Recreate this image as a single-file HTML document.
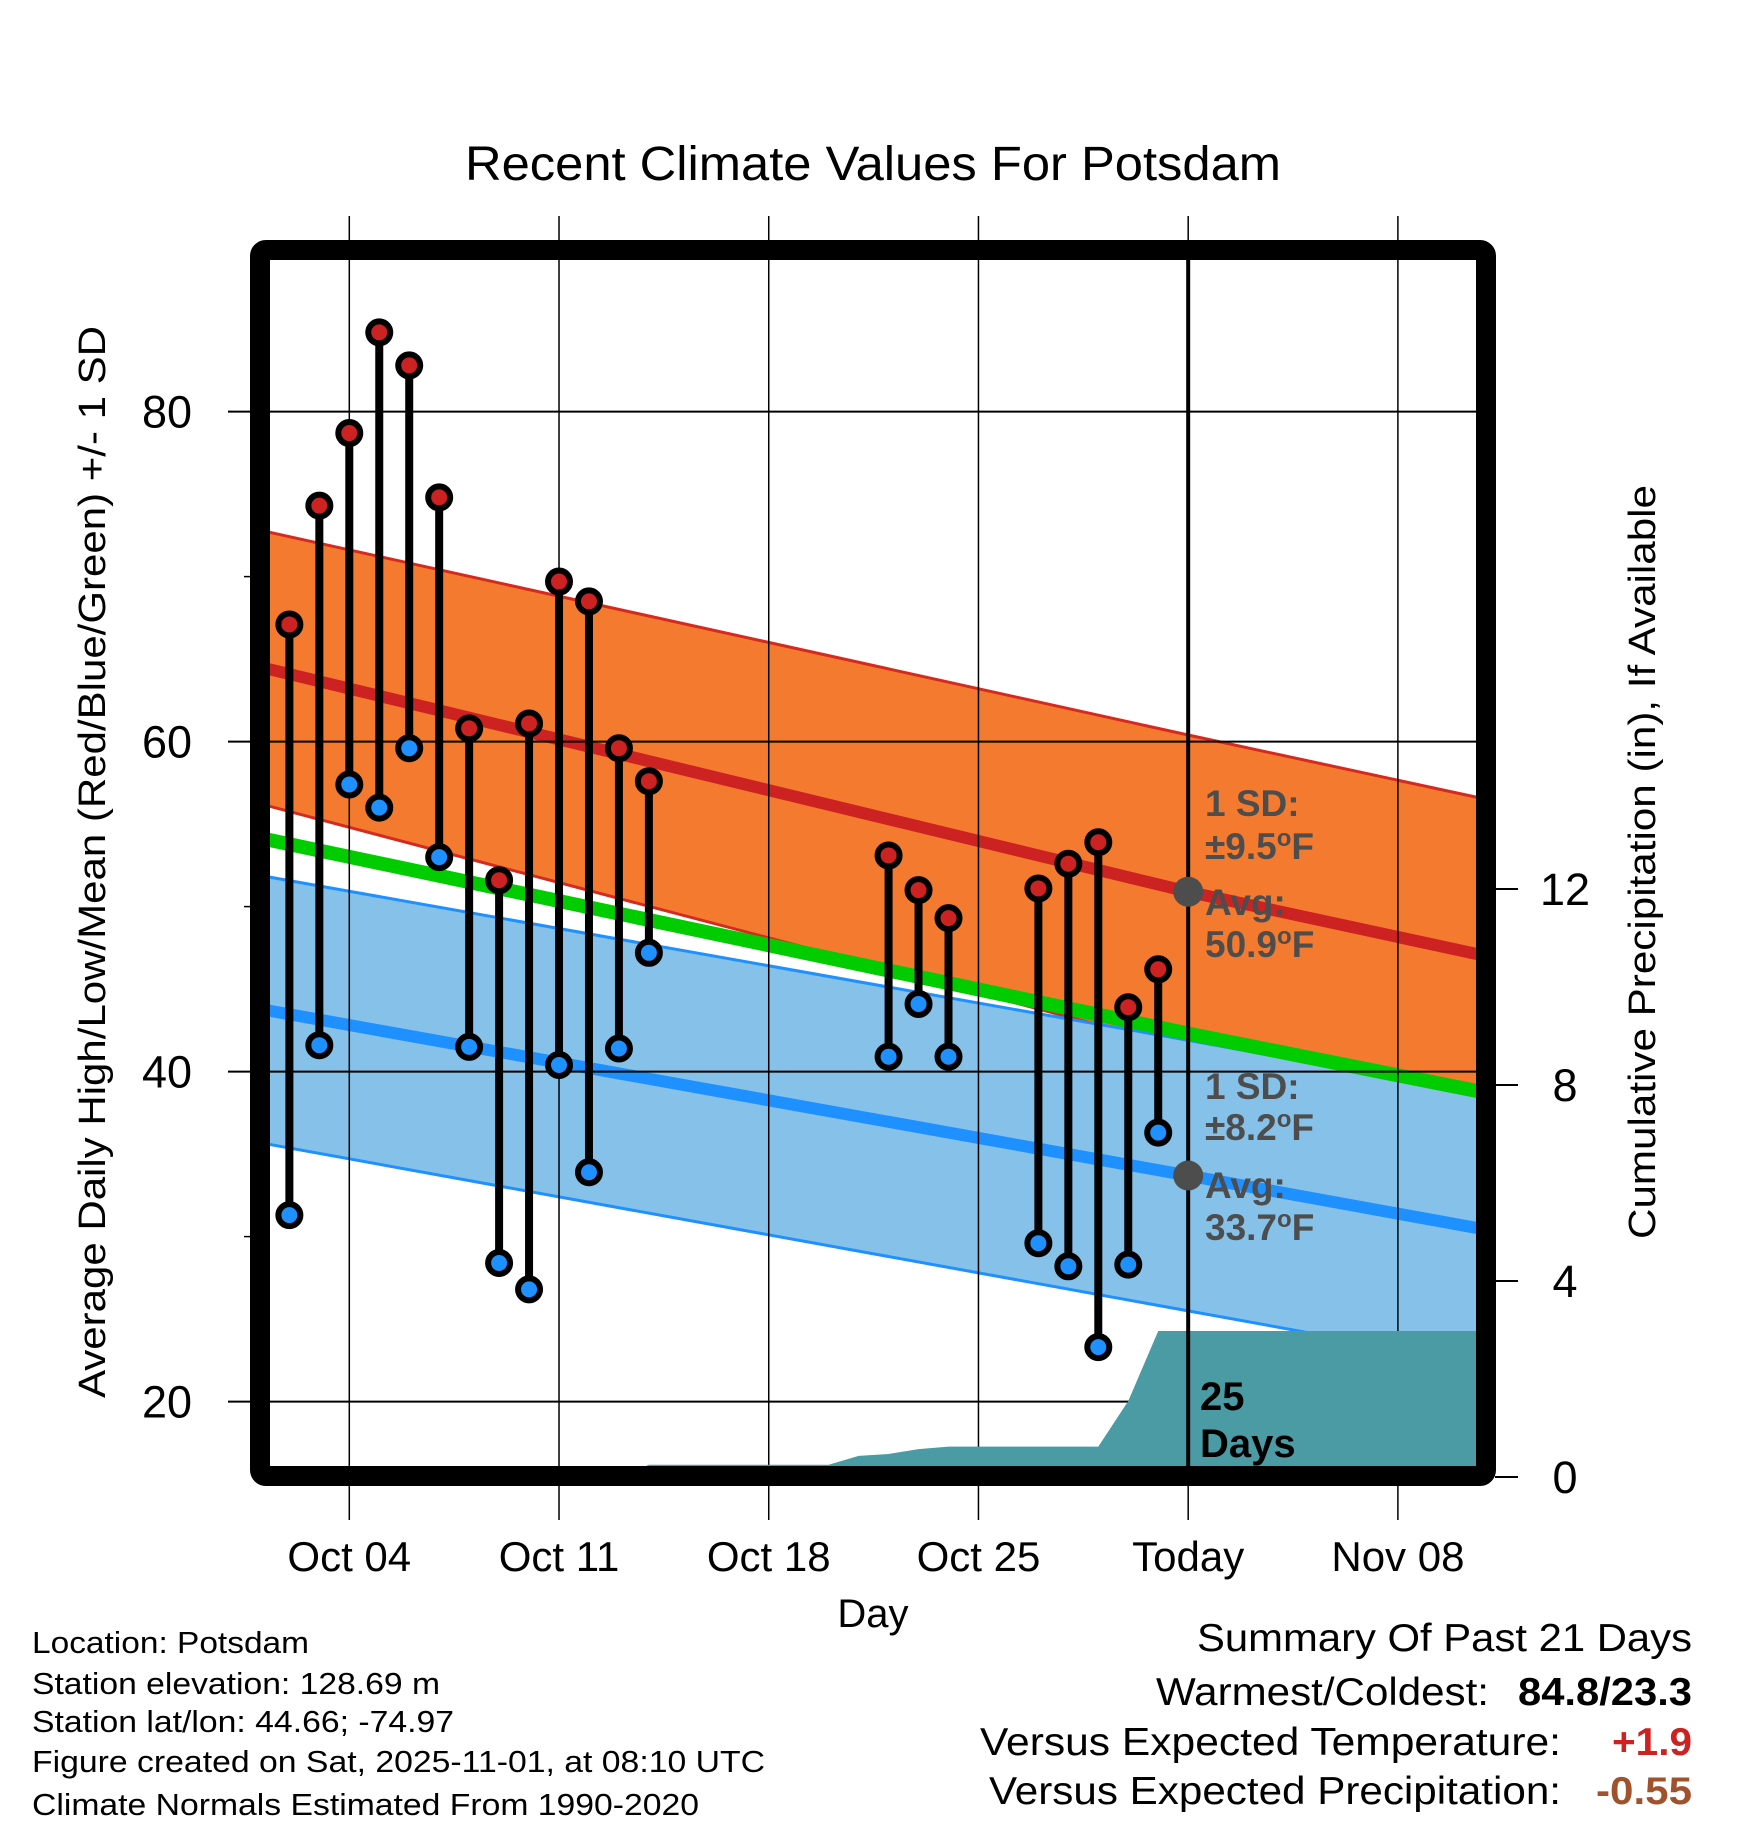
<!DOCTYPE html>
<html><head><meta charset="utf-8"><style>
html,body{margin:0;padding:0;background:#fff}
svg{display:block;font-family:"Liberation Sans",Arial,sans-serif}
</style></head><body>
<svg id="chart" width="1748" height="1828" viewBox="0 0 1748 1828" xmlns="http://www.w3.org/2000/svg">
<defs><clipPath id="plotclip"><rect x="270" y="260" width="1207" height="1207"/></clipPath></defs>
<text x="873" y="180" font-size="48" text-anchor="middle" textLength="816" lengthAdjust="spacingAndGlyphs">Recent Climate Values For Potsdam</text>
<g id="bands" clip-path="url(#plotclip)"></g>
<g id="grid"></g>
<g id="precip" clip-path="url(#plotclip)"></g>
<g id="marks"></g>
<rect x="260" y="250" width="1226" height="1226" rx="6" fill="none" stroke="#000" stroke-width="20"/>
<g id="labels"></g>
<text transform="translate(105,862) rotate(-90)" font-size="38" text-anchor="middle" textLength="1072" lengthAdjust="spacingAndGlyphs">Average Daily High/Low/Mean (Red/Blue/Green) +/- 1 SD</text>
<text transform="translate(1655,862) rotate(-90)" font-size="38" text-anchor="middle" textLength="754" lengthAdjust="spacingAndGlyphs">Cumulative Precipitation (in), If Available</text>
<text x="873" y="1627" font-size="40" text-anchor="middle">Day</text>
<g font-size="31">
<text x="32" y="1653" textLength="277" lengthAdjust="spacingAndGlyphs">Location: Potsdam</text>
<text x="32" y="1694" textLength="408" lengthAdjust="spacingAndGlyphs">Station elevation: 128.69 m</text>
<text x="32" y="1732" textLength="422" lengthAdjust="spacingAndGlyphs">Station lat/lon: 44.66; -74.97</text>
<text x="32" y="1772" textLength="733" lengthAdjust="spacingAndGlyphs">Figure created on Sat, 2025-11-01, at 08:10 UTC</text>
<text x="32" y="1815" textLength="667" lengthAdjust="spacingAndGlyphs">Climate Normals Estimated From 1990-2020</text>
</g>
<g font-size="39">
<text x="1197" y="1651" textLength="495" lengthAdjust="spacingAndGlyphs">Summary Of Past 21 Days</text>
<text x="1156" y="1705" textLength="333" lengthAdjust="spacingAndGlyphs">Warmest/Coldest:</text>
<text x="1518" y="1705" font-weight="bold" textLength="174" lengthAdjust="spacingAndGlyphs">84.8/23.3</text>
<text x="980" y="1755" textLength="581" lengthAdjust="spacingAndGlyphs">Versus Expected Temperature:</text>
<text x="1612" y="1755" font-weight="bold" fill="#cc2222" textLength="80" lengthAdjust="spacingAndGlyphs">+1.9</text>
<text x="989" y="1804" textLength="572" lengthAdjust="spacingAndGlyphs">Versus Expected Precipitation:</text>
<text x="1596" y="1804" font-weight="bold" fill="#a0522d" textLength="96" lengthAdjust="spacingAndGlyphs">-0.55</text>
</g>
</svg>
<script>
const obsDays = [2,3,4,5,6,7,8,9,10,11,12,13,14,22,23,24,27,28,29,30,31];
const highs = [67.1,74.3,78.7,84.8,82.8,74.8,60.8,51.6,61.1,69.7,68.5,59.6,57.6,53.1,51.0,49.3,51.1,52.6,53.9,43.9,46.2];
const lows = [31.3,41.6,57.4,56.0,59.6,53.0,41.5,28.4,26.8,40.4,33.9,41.4,47.2,40.9,44.1,40.9,29.6,28.2,23.3,28.3,36.3];
const normDays = [1.3,32,41.7];
const highMean = [64.4,50.9,47.1];
const highSD = [8.3,9.5,9.5];
const lowMean = [43.7,33.7,30.5];
const lowSD = [8.1,8.2,8.2];
const precipDays = [1,13,14,20,21,22,23,24,29,30,31,42];
const precipVals = [0,0,0.25,0.25,0.43,0.47,0.57,0.62,0.62,1.55,2.98,2.98];
const yTicks = [20,40,60,80];
const yMinor = [30,50,70];
const y2Ticks = [0,4,8,12];
const xTickDays = [4,11,18,25,32,39];
const xTickLabels = ["Oct 04","Oct 11","Oct 18","Oct 25","Today","Nov 08"];
const todayDay = 32;

const NS="http://www.w3.org/2000/svg";
const xS = d => 349.3 + (d-4)*29.96;
const yS = v => 411.6 + (80-v)*16.5;
const pS = p => 1477 - p*49;
function mk(parent,tag,attrs){const e=document.createElementNS(NS,tag);for(const k in attrs)e.setAttribute(k,attrs[k]);document.getElementById(parent).appendChild(e);return e;}
function pts(days,vals,f){return days.map((d,i)=>xS(d)+","+f(vals[i])).join(" ");}
const hUp=highMean.map((m,i)=>m+highSD[i]), hLo=highMean.map((m,i)=>m-highSD[i]);
const lUp=lowMean.map((m,i)=>m+lowSD[i]), lLo=lowMean.map((m,i)=>m-lowSD[i]);
const rev=a=>a.slice().reverse();
let e=mk("bands","polygon",{points:pts(normDays,hUp,yS)+" "+pts(rev(normDays),rev(hLo),yS),fill:"#f47a30"});


for(const a of [hUp,hLo]){e=mk("bands","polyline",{points:pts(normDays,a,yS),fill:"none",stroke:"#d42a20","stroke-width":3});

}
e=mk("bands","polygon",{points:pts(normDays,lUp,yS)+" "+pts(rev(normDays),rev(lLo),yS),fill:"#85c1e8"});


for(const a of [lUp,lLo]){e=mk("bands","polyline",{points:pts(normDays,a,yS),fill:"none",stroke:"#1e90ff","stroke-width":3});

}
const meanAvg=highMean.map((m,i)=>(m+lowMean[i])/2);
e=mk("bands","polyline",{points:pts(normDays,meanAvg,yS),fill:"none",stroke:"#00cc00","stroke-width":14});


e=mk("bands","polyline",{points:pts(normDays,highMean,yS),fill:"none",stroke:"#cc2222","stroke-width":12});


e=mk("bands","polyline",{points:pts(normDays,lowMean,yS),fill:"none",stroke:"#1e90ff","stroke-width":12});


yTicks.forEach(v=>{e=mk("grid","line",{x1:228,x2:1477,y1:yS(v),y2:yS(v),stroke:"#000","stroke-width":2});


e=mk("labels","text",{x:192,y:yS(v)+16,"font-size":45,"text-anchor":"end"});e.textContent=v;

});
yMinor.forEach(v=>{e=mk("grid","line",{x1:244,x2:252,y1:yS(v),y2:yS(v),stroke:"#000","stroke-width":1.5});

});
xTickDays.forEach((d,i)=>{e=mk("grid","line",{x1:xS(d),x2:xS(d),y1:216,y2:1520,stroke:"#000","stroke-width":1.5});


e=mk("labels","text",{x:xS(d),y:1571,"font-size":42,"text-anchor":"middle"});e.textContent=xTickLabels[i];

});
y2Ticks.forEach(p=>{e=mk("grid","line",{x1:1495,x2:1518,y1:pS(p),y2:pS(p),stroke:"#000","stroke-width":2});


e=mk("labels","text",{x:1565,y:pS(p)+16,"font-size":45,"text-anchor":"middle"});e.textContent=p;

});
e=mk("precip","polygon",{points:xS(precipDays[0])+","+pS(0)+" "+pts(precipDays,precipVals,pS)+" "+xS(precipDays[precipDays.length-1])+","+pS(0),fill:"#4a9ba4"});


e=mk("marks","line",{x1:xS(todayDay),x2:xS(todayDay),y1:260,y2:1467,stroke:"#000","stroke-width":4});


obsDays.forEach((d,i)=>{e=mk("marks","line",{x1:xS(d),x2:xS(d),y1:yS(highs[i]),y2:yS(lows[i]),stroke:"#000","stroke-width":8});

});
obsDays.forEach((d,i)=>{e=mk("marks","circle",{cx:xS(d),cy:yS(highs[i]),r:11,fill:"#cc2222",stroke:"#000","stroke-width":6});


e=mk("marks","circle",{cx:xS(d),cy:yS(lows[i]),r:11,fill:"#1e90ff",stroke:"#000","stroke-width":6});

});
const hiToday=highMean[1], loToday=lowMean[1];
e=mk("marks","circle",{cx:xS(todayDay),cy:yS(hiToday),r:15,fill:"#4d4d4d"});


e=mk("marks","circle",{cx:xS(todayDay),cy:yS(loToday),r:15,fill:"#4d4d4d"});


function ann(txt,x,y,fill,name,fs){const t=mk("marks","text",{x:x,y:y,"font-size":fs||37,"font-weight":"bold",fill:fill});t.innerHTML=txt;

}
const deg="<tspan baseline-shift='super' font-size='24'>o</tspan>F";
ann("1 SD:",1205,816,"#4d4d4d","high-sd-label");
ann("±"+highSD[1].toFixed(1)+deg,1205,859,"#4d4d4d","high-sd-value");
ann("Avg:",1205,915,"#4d4d4d","high-avg-label");
ann(hiToday.toFixed(1)+deg,1205,957,"#4d4d4d","high-avg-value");
ann("1 SD:",1205,1099,"#4d4d4d","low-sd-label");
ann("±"+lowSD[1].toFixed(1)+deg,1205,1140,"#4d4d4d","low-sd-value");
ann("Avg:",1205,1198,"#4d4d4d","low-avg-label");
ann(loToday.toFixed(1)+deg,1205,1240,"#4d4d4d","low-avg-value");
ann("25",1200,1410,"#000","precip-days-count",40);
ann("Days",1200,1457,"#000","precip-days-label",40);
</script>
</body></html>
